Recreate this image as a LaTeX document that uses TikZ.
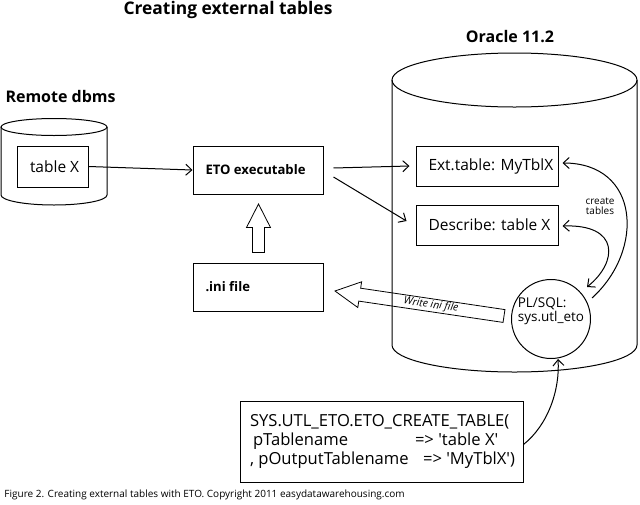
\documentclass[tikz,border=0pt]{standalone}
\usepackage{fontspec}
\setmainfont{Open Sans}
\usetikzlibrary{arrows.meta,calc}
\begin{document}
\begin{tikzpicture}[x=1pt,y=-1pt,line width=1pt,
  box/.style={draw, rectangle, inner xsep=12.5pt, inner ysep=0pt, align=left,
    font=\fontsize{15.5}{18}\selectfont},
  bbox/.style={box, font=\bfseries\fontsize{13.1}{15}\selectfont},
  heading/.style={font=\bfseries\fontsize{16}{19}\selectfont, inner sep=0pt},
  conn/.style={-{Straight Barb[length=6pt,width=11pt]}},
  dconn/.style={{Straight Barb[length=6pt,width=11pt]}-{Straight Barb[length=6pt,width=11pt]}},
  fat/.style={draw, line width=0.8pt, line join=miter}]
\useasboundingbox (0,0) rectangle (640,504);
\fill[white] (0,0) rectangle (640,504);

% headings
\node[heading, font=\bfseries\fontsize{17.4}{20}\selectfont] (title) at (228,10) {Creating external tables};
\node[heading, anchor=west] (remote) at (5,96) {Remote dbms};
\node[heading] (oracle) at (510,37) {Oracle 11.2};

% small cylinder
\draw (54,127) ellipse [x radius=53, y radius=8.5];
\draw (1,127) -- (1,195) arc[start angle=180, end angle=360, x radius=53, y radius=-10] -- (107,127);

% big cylinder
\draw (514.5,80) ellipse [x radius=122.5, y radius=27];
\draw (392,80) -- (392,345) arc[start angle=180, end angle=360, x radius=122.5, y radius=-27] -- (637,80);

% boxes
\node[box, minimum width=71pt, minimum height=41pt] (tx) at (52.5,166.5) {\makebox[45pt][l]{table X}};
\node[bbox, minimum width=130pt, minimum height=48pt] (eto) at (258,170) {\makebox[105pt][l]{ETO executable}};
\node[bbox, minimum width=130pt, minimum height=48pt] (ini) at (258,287) {\makebox[105pt][l]{.ini file}};
\node[box, minimum width=142pt, minimum height=40pt] (ext) at (487,166) {\makebox[117pt][l]{Ext.table: MyTblX}};
\node[box, minimum width=142pt, minimum height=40pt] (desc) at (487,225) {\makebox[117pt][l]{Describe: table X}};
\node[draw, circle, minimum size=79pt, inner sep=0pt, align=left,
  font=\fontsize{13.5}{15}\selectfont] (pl) at (551,319) {PL/SQL:\\[-1pt]sys.utl\_eto\\[3pt]};
\node[draw, rectangle, inner xsep=10pt, inner ysep=0pt, align=left, minimum width=283pt, minimum height=81pt,
  font=\fontsize{16.6}{19}\selectfont]
  (sys) at (381.5,441.5)
  {\makebox[263pt][l]{SYS.UTL\_ETO.ETO\_CREATE\_TABLE(}\\
   \makebox[263pt][l]{\hspace*{3pt}\makebox[162pt][l]{pTablename}=> \textquotesingle table X\textquotesingle}\\
   \makebox[263pt][l]{\makebox[173pt][l]{, pOutputTablename}=> \textquotesingle MyTblX\textquotesingle)}};

% connectors
\draw[conn] (tx.east) -- (eto.west);
\draw[conn] ($(eto.east)+(10,-2)$) -- ($(ext.west)+(-6,0)$);
\draw[conn] ($(eto.east)+(10,7)$) -- ($(desc.west)+(-9,-4)$);

\coordinate (c1) at (592,298);
\draw[conn] (c1) .. controls (645,250) and (640,163) .. ($(ext.east)+(4,-3)$);
\node[font=\fontsize{10}{11}\selectfont, align=center, inner sep=0pt] (ct) at (600,206) {create\\[-1pt]tables};
\draw[dconn] ($(desc.east)+(4,1)$) .. controls (620,224) and (618,262) .. (587,287);
\draw[conn] ($(sys.east)+(0,3)$) .. controls (548,425) and (560,390) .. (558,359);

% block arrow up
\draw[fat] (252.5,252.5) -- (252.5,227.5) -- (246.5,227.5) -- (258.5,204) -- (270.5,227.5) -- (264.5,227.5) -- (264.5,252.5) -- cycle;

% write ini file arrow
\draw[fat] (504.95,309.6) -- (360.65,288.2) -- (361.6,281.8) -- (335,291) -- (357.8,307.5) -- (358.75,301.1) -- (503.05,322.4) -- cycle;
\node[font=\itshape\fontsize{10.5}{12}\selectfont, rotate=-8.4, inner sep=0pt] (wi) at (431,305) {Write ini file};

% caption
\node[anchor=west, inner sep=0pt, font=\fontsize{10}{12}\selectfont] (cap) at (4,495)
  {Figure 2. Creating external tables with ETO. Copyright 2011 easydatawarehousing.com};
\end{tikzpicture}
\end{document}
